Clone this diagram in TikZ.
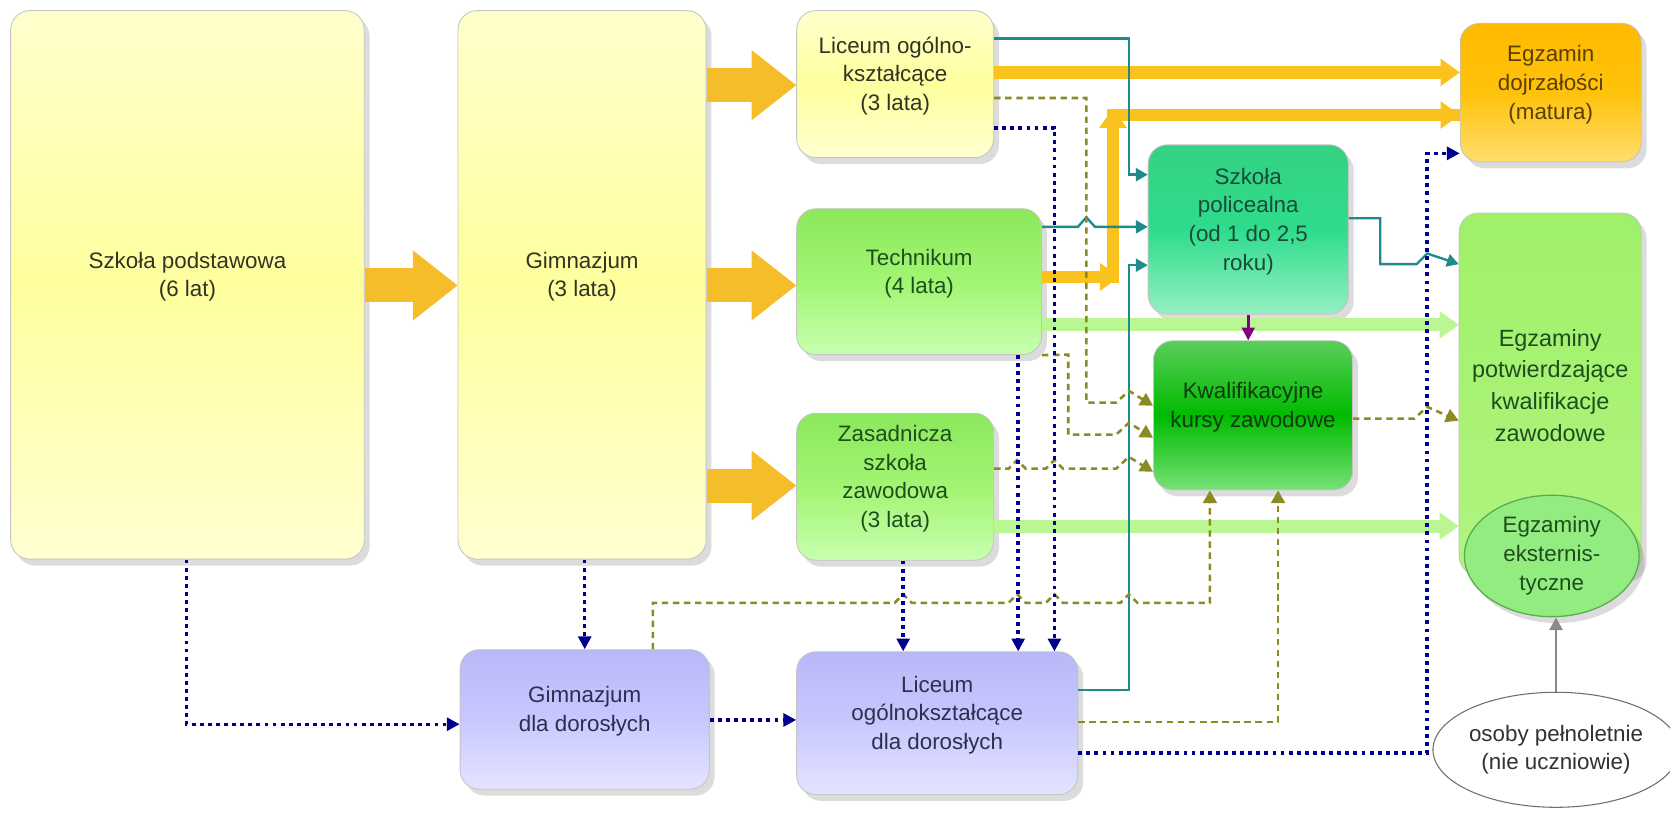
\documentclass[tikz,border=0pt]{standalone}
\usepackage{fontspec}
\setmainfont{Liberation Sans}
\usetikzlibrary{arrows.meta,shadows,fit,shapes.geometric}
\definecolor{bordc}{HTML}{C4C4C4}
\definecolor{bigc}{HTML}{F6BD2A}
\definecolor{ymedc}{HTML}{FAC21C}
\definecolor{gmedc}{HTML}{BAF792}
\definecolor{tealc}{HTML}{1E8A8C}
\definecolor{olvc}{HTML}{8C8A22}
\definecolor{bluc}{HTML}{00008C}
\definecolor{purc}{HTML}{800080}
\definecolor{grayc}{HTML}{8A8A8A}
\definecolor{ytext}{HTML}{333322}
\definecolor{gtext}{HTML}{1E4E1E}
\definecolor{poltext}{HTML}{1A4A36}
\definecolor{kkztext}{HTML}{0C3C0C}
\definecolor{mattext}{HTML}{5A4000}
\definecolor{lavtext}{HTML}{2E2E4E}
\begin{document}
\begin{tikzpicture}[x=0.5pt,y=-0.5pt,
  box/.style={draw=bordc, line width=0.4pt, rounded corners=9pt, inner sep=0pt,
    align=center, font=\fontsize{10.5}{13.5}\selectfont,
    drop shadow={opacity=0.28,shadow xshift=2.5pt,shadow yshift=-3pt}},
  ybox/.style={top color=yellow!20!white, bottom color=yellow!18!white, middle color=yellow!38!white, text=ytext},
  gbox/.style={top color={rgb,255:red,140;green,232;blue,92}, bottom color={rgb,255:red,200;green,255;blue,176}, middle color={rgb,255:red,162;green,245;blue,114}, text=gtext},
  polbox/.style={top color={rgb,255:red,52;green,210;blue,130}, bottom color={rgb,255:red,150;green,240;blue,194}, middle color={rgb,255:red,46;green,220;blue,140}, text=poltext},
  kkzbox/.style={top color={rgb,255:red,90;green,205;blue,90}, bottom color={rgb,255:red,120;green,225;blue,120}, middle color={rgb,255:red,0;green,187;blue,0}, text=kkztext},
  matbox/.style={top color={rgb,255:red,255;green,186;blue,0}, bottom color={rgb,255:red,255;green,222;blue,110}, middle color={rgb,255:red,255;green,194;blue,10}, text=mattext},
  epkbox/.style={top color={rgb,255:red,160;green,240;blue,104}, bottom color={rgb,255:red,176;green,244;blue,128}, text=gtext},
  lavbox/.style={top color={rgb,255:red,184;green,184;blue,248}, bottom color={rgb,255:red,228;green,228;blue,255}, middle color={rgb,255:red,200;green,200;blue,255}, text=lavtext},
  bigarrow/.style={draw=bigc, line width=16pt, -{Triangle[length=21pt,width=33pt,line width=0pt]}},
  ymed/.style={draw=ymedc, line width=6pt, -{Triangle[length=9pt,width=13pt,line width=0pt]}},
  gmed/.style={draw=gmedc, line width=6pt, -{Triangle[length=9pt,width=13pt,line width=0pt]}},
  tealln/.style={draw=tealc, line width=1.1pt, -{Triangle[length=5.5pt,width=6pt]}},
  olvln/.style={draw=olvc, line width=1.2pt, dash pattern=on 3pt off 2.2pt, -{Triangle[length=6pt,width=6.5pt]}},
  bluln/.style={draw=bluc, line width=1.6pt, dash pattern=on 1.8pt off 2pt, -{Triangle[length=6pt,width=6pt]}},
  purln/.style={draw=purc, line width=1.2pt, -{Triangle[length=6pt,width=6pt]}},
  grayln/.style={draw=grayc, line width=1.3pt, -{Triangle[length=6pt,width=6pt]}}
]
\useasboundingbox (0,0) rectangle (1568,763);

% boxes
\node[box, ybox, fit={(10,10) (342,525)}] (sp) {Szkoła podstawowa\\(6 lat)};
\node[box, ybox, fit={(430,10) (663,525)}] (gim) {Gimnazjum\\(3 lata)};
\node[box, ybox, fit={(748,10) (933,148)}] (lo) {Liceum ogólno-\\kształcące\\(3 lata)};
\node[box, gbox, fit={(748,196) (978,333)}] (tech) {Technikum\\(4 lata)};
\node[box, gbox, fit={(748,388) (933,526)}] (zsz) {Zasadnicza\\szkoła\\zawodowa\\(3 lata)};
\node[box, polbox, fit={(1078,136) (1266,295)}] (pol) {Szkoła\\policealna\\(od 1 do 2,5\\roku)};
\node[box, kkzbox, fit={(1083,320) (1270,460)}] (kkz) {Kwalifikacyjne\\kursy zawodowe};
\node[box, matbox, fit={(1371,22) (1541,152)}] (mat) {Egzamin\\dojrzałości\\(matura)};
\node[box, epkbox, fit={(1370,200) (1541,540)}, font=\fontsize{11}{15}\selectfont] (epk) {Egzaminy\\potwierdzające\\kwalifikacje\\zawodowe};
\node[box, lavbox, fit={(432,610) (666,741)}] (gdd) {Gimnazjum\\dla dorosłych};
\node[box, lavbox, fit={(748,612) (1012,746)}] (ldd) {Liceum\\ogólnokształcące\\dla dorosłych};

% big arrows
\draw[bigarrow] (sp.east |- 0,268) -- (gim.west |- 0,268);
\draw[bigarrow] (gim.east |- 0,80) -- (lo.west |- 0,80);
\draw[bigarrow] (gim.east |- 0,268) -- (tech.west |- 0,268);
\draw[bigarrow] (gim.east |- 0,456) -- (zsz.west |- 0,456);

% medium arrows
\draw[ymed] (lo.east |- 0,68) -- (mat.west |- 0,68);
\coordinate (c1) at (1045,260);
\coordinate (c2) at (1045,108);
\draw[ymed, -] (tech.east |- 0,260) -- (c1) -- (c2) -- (mat.west |- 0,108);
\draw[ymed] (tech.east |- 0,260) -- ([xshift=3pt]c1);
\draw[ymed] (c1) -- ([yshift=3pt]c2);
\draw[ymed] (c2) -- (mat.west |- 0,108);
\draw[gmed] (tech.east |- 0,305) -- (epk.west |- 0,305);
\draw[gmed] (zsz.east |- 0,494) -- (epk.west |- 0,494);

% teal
\draw[tealln] (lo.east |- 0,36) -- (1060,36) -- (1060,164) -- (pol.west |- 0,164);
\draw[tealln] (tech.east |- 0,213) -- (1012,213) -- (1020,204) -- (1028,213) -- (pol.west |- 0,213);
\draw[tealln] (ldd.east |- 0,648) -- (1060,648) -- (1060,249) -- (pol.west |- 0,249);
\draw[tealln] (pol.east |- 0,205) -- (1296,205) -- (1296,248) -- (1330,248) -- (1340,238) -- (epk.west |- 0,248);

% purple
\draw[purln] (pol.south) -- (pol.south |- kkz.north);

% olive dashed
\draw[olvln] (lo.east |- 0,92) -- (1020,92) -- (1020,378) -- (1048,378) -- (1060,367) -- (kkz.west |- 0,381);
\draw[olvln] (tech.south east) -- (1003,333) -- (1003,408) -- (1048,408) -- (1060,397) -- (kkz.west |- 0,411);
\draw[olvln] (zsz.east |- 0,440) -- (947,440) -- (955,432) -- (963,440) -- (982,440) -- (990,432) -- (998,440) -- (1048,440) -- (1060,429) -- (kkz.west |- 0,443);
\draw[olvln] (kkz.east |- 0,393) -- (1328,393) -- (1340,382) -- (epk.west |- 0,395);
\draw[olvln] (gdd.north -| 613,0) -- (613,566) -- (840,566) -- (848,558) -- (856,566) -- (947,566) -- (955,558) -- (963,566) -- (982,566) -- (990,558) -- (998,566) -- (1052,566) -- (1060,558) -- (1068,566) -- (1136,566) -- (kkz.south -| 1136,0);
\draw[olvln] (ldd.east |- 0,678) -- (1200,678) -- (kkz.south -| 1200,0);

% blue dotted
\draw[bluln] (lo.east |- 0,120) -- (990,120) -- (ldd.north -| 990,0);
\draw[bluln] (tech.south -| 956,0) -- (ldd.north -| 956,0);
\draw[bluln] (zsz.south -| 848,0) -- (ldd.north -| 848,0);
\draw[bluln] (gim.south -| 549,0) -- (gdd.north -| 549,0);
\draw[bluln] (sp.south -| 175,0) -- (175,680) -- (gdd.west |- 0,680);
\draw[bluln] (gdd.east |- 0,676) -- (ldd.west |- 0,676);
\draw[bluln] (ldd.east |- 0,707) -- (1340,707) -- (1340,144) -- (mat.west |- 0,144);

% ellipses
\node[ellipse, draw={rgb,255:red,92;green,170;blue,80}, line width=0.6pt, fill={rgb,255:red,146;green,236;blue,128}, text=gtext, minimum width=82pt, minimum height=57pt, inner sep=0pt, align=center, font=\fontsize{10.5}{13.5}\selectfont, drop shadow={opacity=0.28,shadow xshift=2.5pt,shadow yshift=-3pt}] (ext) at (1457,522) {Egzaminy\\eksternis-\\tyczne};
\node[ellipse, draw={rgb,255:red,110;green,110;blue,110}, line width=0.5pt, fill=white, text={rgb,255:red,50;green,50;blue,50}, minimum width=97pt, minimum height=54pt, inner sep=0pt, align=center, font=\fontsize{10.5}{13.5}\selectfont] (os) at (1461,704) {osoby pełnoletnie\\(nie uczniowie)};
\draw[grayln] (os.north) -- (os.north |- ext.south);
\end{tikzpicture}
\end{document}
